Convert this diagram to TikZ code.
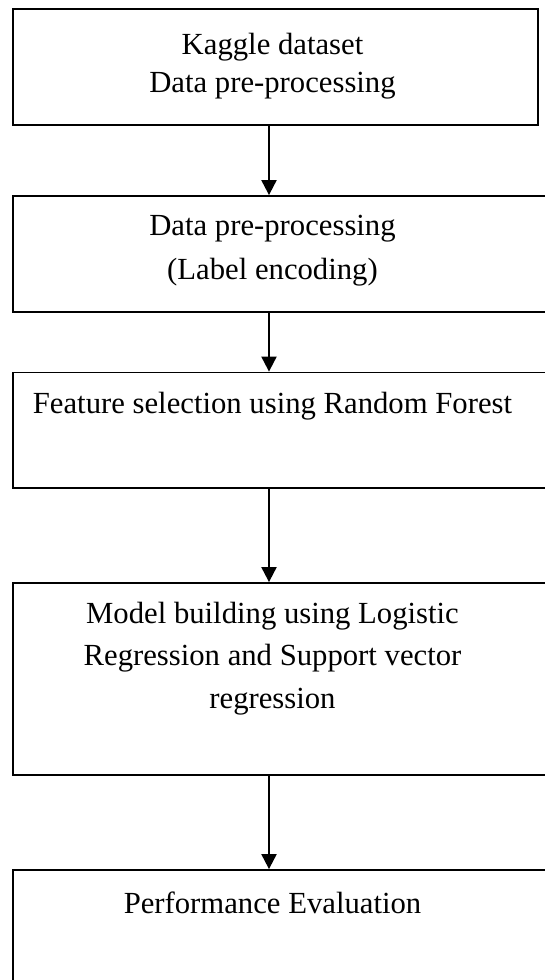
\documentclass[tikz,border=0pt]{standalone}
\usepackage{fontspec}
\setmainfont{Liberation Serif}
\usetikzlibrary{arrows.meta}
\tikzset{
  stagebox/.style={draw=black, line width=1.8pt, rectangle, inner sep=0pt},
  stagetext/.style={anchor=base, inner sep=0pt, font=\fontsize{30.7}{36}\selectfont},
  flow/.style={draw=black, line width=2pt, -{Triangle[width=15pt,length=15pt]}}
}
\begin{document}
\begin{tikzpicture}[x=1pt, y=-1pt]
  \useasboundingbox (0,0) rectangle (544,980);
  \fill[white] (0,0) rectangle (544,980);

  % process stages
  \node[stagebox, minimum width=525pt, minimum height=116pt] (b1) at (275.5,67) {};
  \node[stagebox, minimum width=547pt, minimum height=116pt] (b2) at (286.5,254) {};
  \node[stagebox, minimum width=547pt, minimum height=115.5pt] (b3) at (286.5,430.25) {};
  \node[stagebox, minimum width=547pt, minimum height=192pt] (b4) at (286.5,679) {};
  \node[stagebox, minimum width=547pt, minimum height=140pt] (b5) at (286.5,940) {};

  % stage labels
  \node[stagetext] (t1a) at (272.5,54) {Kaggle dataset};
  \node[stagetext] (t1b) at (272.5,92) {Data pre-processing};
  \node[stagetext] (t2a) at (272.5,235) {Data pre-processing};
  \node[stagetext] (t2b) at (272.5,279) {(Label encoding)};
  \node[stagetext] (t3a) at (272.5,413) {Feature selection using Random Forest};
  \node[stagetext] (t4a) at (272.5,623) {Model building using Logistic};
  \node[stagetext] (t4b) at (272.5,665) {Regression and Support vector};
  \node[stagetext] (t4c) at (272.5,708) {regression};
  \node[stagetext] (t5a) at (272.5,913) {Performance Evaluation};

  % connectors along the central spine
  \coordinate (spine) at (269,0);
  \draw[flow] (b1.south -| spine) -- (b2.north -| spine);
  \draw[flow] (b2.south -| spine) -- (b3.north -| spine);
  \draw[flow] (b3.south -| spine) -- (b4.north -| spine);
  \draw[flow] (b4.south -| spine) -- (b5.north -| spine);
\end{tikzpicture}
\end{document}
